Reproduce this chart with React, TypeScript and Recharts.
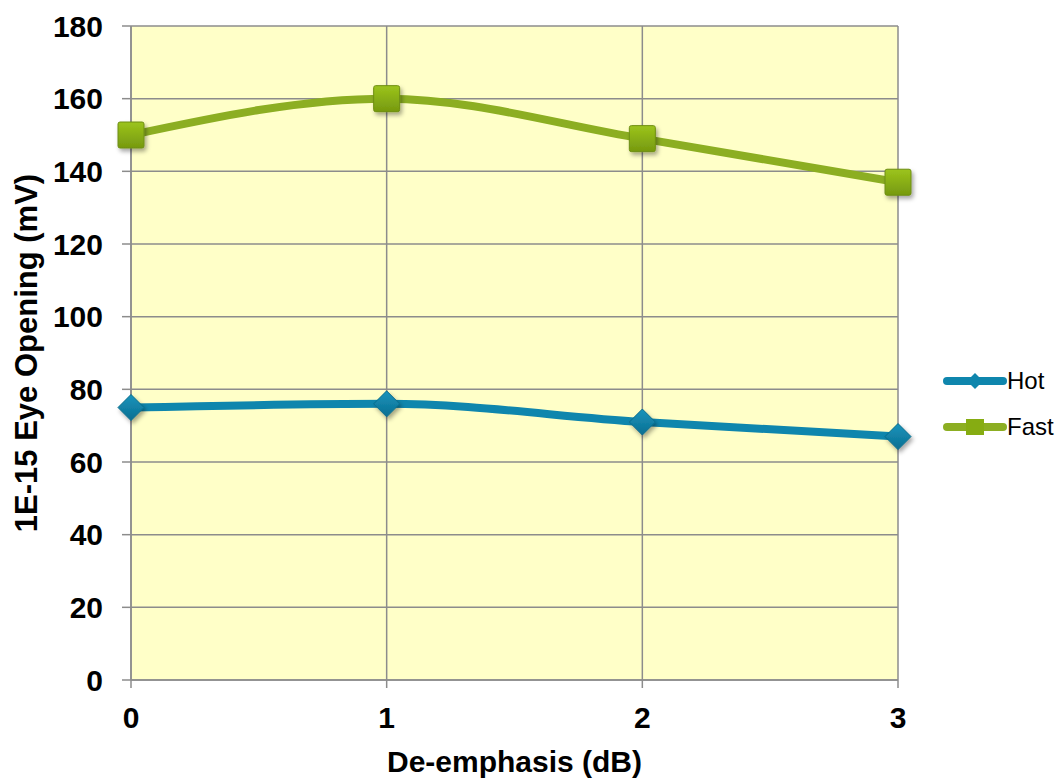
import React from 'react';
import {
  LineChart,
  Line,
  XAxis,
  YAxis,
  CartesianGrid,
  Legend,
} from 'recharts';

// De-emphasis settings (dB) and eye opening per corner
const deEmphasis = [0, 1, 2, 3];
const hotValues = [75, 76, 71, 67];
const fastValues = [150, 160, 149, 137];
const yTicks = [0, 20, 40, 60, 80, 100, 120, 140, 160, 180];

const data = deEmphasis.map((x, i) => ({ x, Hot: hotValues[i], Fast: fastValues[i] }));

const HOT = '#0F86AD';
const FAST = '#8CAE22';
const FONT = '"Liberation Sans", Arial, sans-serif';

const SquareDot = (props: any) => {
  const { cx, cy } = props;
  if (cx == null || cy == null) return null;
  const s = 26;
  return (
    <rect
      x={cx - s / 2}
      y={cy - s / 2}
      width={s}
      height={s}
      rx={2}
      fill="url(#fastGrad)"
      stroke="#6E8E14"
      strokeWidth={1}
      filter="url(#markShadow)"
    />
  );
};

const DiamondDot = (props: any) => {
  const { cx, cy } = props;
  if (cx == null || cy == null) return null;
  const r = 13;
  return (
    <path
      d={`M${cx},${cy - r}L${cx + r},${cy}L${cx},${cy + r}L${cx - r},${cy}Z`}
      fill="url(#hotGrad)"
      stroke="#0A6C8C"
      strokeWidth={1}
      filter="url(#markShadow)"
    />
  );
};

const LegendContent = (props: any) => {
  const items = (props.payload || []) as any[];
  const order = ['Hot', 'Fast'];
  const sorted = [...items].sort((a, b) => order.indexOf(a.value) - order.indexOf(b.value));
  return (
    <div style={{ fontFamily: FONT, fontSize: 24, color: '#000' }}>
      {sorted.map((it) => (
        <div key={it.value} style={{ display: 'flex', alignItems: 'center', height: 46 }}>
          <svg width={64} height={20}>
            <line x1={4} y1={10} x2={60} y2={10} stroke={it.color} strokeWidth={8} strokeLinecap="round" />
            {it.value === 'Hot' ? (
              <path d="M32,2L40,10L32,18L24,10Z" fill={it.color} />
            ) : (
              <rect x={23} y={2} width={18} height={16} fill="#86AC12" />
            )}
          </svg>
          <span>{it.value}</span>
        </div>
      ))}
    </div>
  );
};

export default function App() {
  return (
    <div style={{ position: 'absolute', left: 0, top: 0, background: '#fff' }}>
      <LineChart
        width={1061}
        height={780}
        data={data}
        margin={{ top: 26, right: 163, bottom: 0, left: 0 }}
      >
        <defs>
          <linearGradient id="fastGrad" x1="0" y1="0" x2="0" y2="1">
            <stop offset="0%" stopColor="#9CC41C" />
            <stop offset="100%" stopColor="#76990F" />
          </linearGradient>
          <linearGradient id="hotGrad" x1="0" y1="0" x2="0" y2="1">
            <stop offset="0%" stopColor="#1A94BC" />
            <stop offset="100%" stopColor="#0A6F92" />
          </linearGradient>
          <filter id="markShadow" x="-50%" y="-50%" width="200%" height="200%">
            <feDropShadow dx={2} dy={3} stdDeviation={2} floodColor="#000" floodOpacity={0.35} />
          </filter>
        </defs>
        <CartesianGrid fill="#FFFFC8" stroke="#8C8C8C" strokeWidth={1.5} />
        <XAxis
          dataKey="x"
          type="number"
          domain={[0, 3]}
          ticks={deEmphasis}
          height={100}
          tickSize={8}
          tickMargin={19}
          axisLine={{ stroke: '#8C8C8C', strokeWidth: 1.5 }}
          tickLine={{ stroke: '#8C8C8C', strokeWidth: 1.5 }}
          tick={{ fill: '#000', fontSize: 30, fontWeight: 700, fontFamily: FONT }}
          label={{
            value: 'De-emphasis (dB)',
            position: 'insideBottom',
            offset: 8,
            fill: '#000',
            fontSize: 30,
            fontWeight: 700,
            fontFamily: FONT,
          }}
        />
        <YAxis
          type="number"
          domain={[0, 180]}
          ticks={yTicks}
          width={131}
          tickSize={9}
          tickMargin={19}
          axisLine={{ stroke: '#8C8C8C', strokeWidth: 1.5 }}
          tickLine={{ stroke: '#8C8C8C', strokeWidth: 1.5 }}
          tick={{ fill: '#000', fontSize: 30, fontWeight: 700, fontFamily: FONT }}
          label={{
            value: '1E-15 Eye Opening (mV)',
            angle: -90,
            position: 'insideLeft',
            offset: 26,
            style: { textAnchor: 'middle' },
            fill: '#000',
            fontSize: 31,
            fontWeight: 700,
            fontFamily: FONT,
          }}
        />
        <Legend
          layout="horizontal"
          verticalAlign="middle"
          align="center"
          content={<LegendContent />}
          wrapperStyle={{ left: 943, top: 358, width: 118 }}
        />
        <Line
          type="monotone"
          dataKey="Hot"
          stroke={HOT}
          strokeWidth={8}
          dot={<DiamondDot />}
          activeDot={false}
          isAnimationActive={false}
        />
        <Line
          type="monotone"
          dataKey="Fast"
          stroke={FAST}
          strokeWidth={8}
          dot={<SquareDot />}
          activeDot={false}
          isAnimationActive={false}
        />
      </LineChart>
    </div>
  );
}
